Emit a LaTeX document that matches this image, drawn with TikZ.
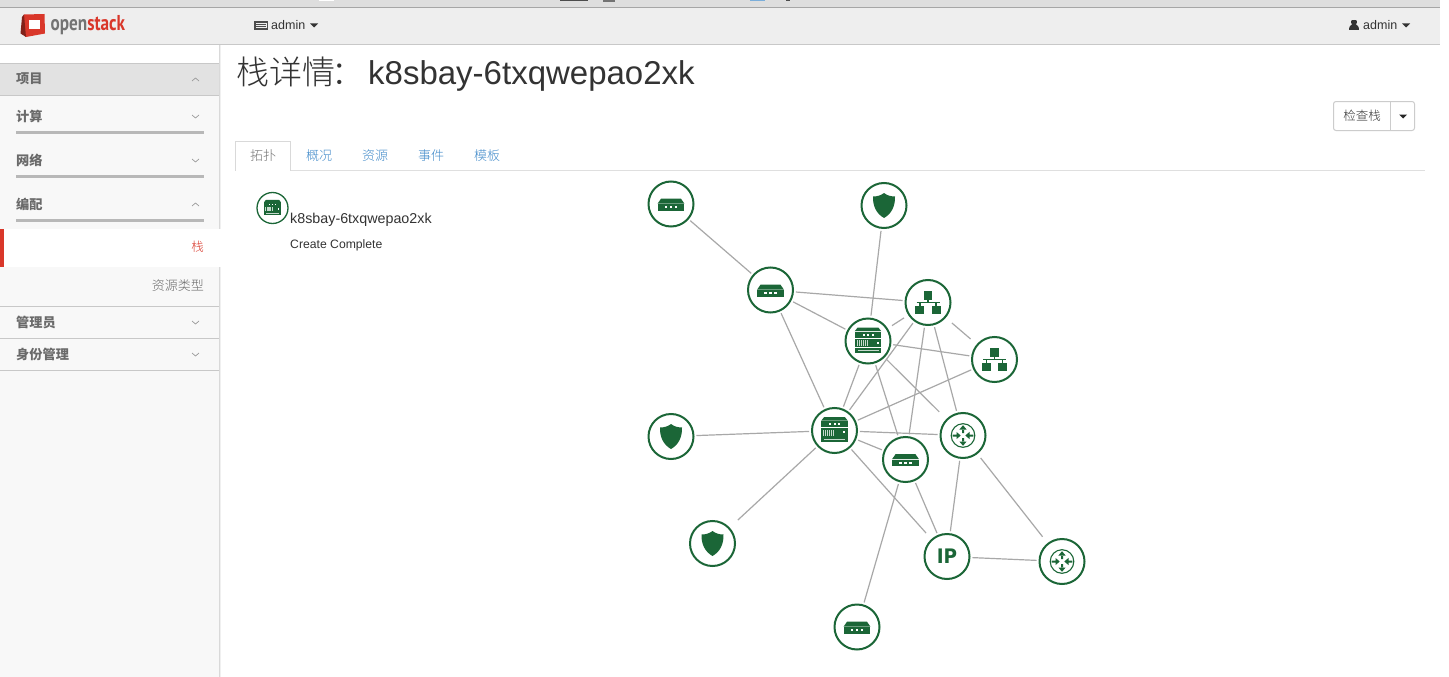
\documentclass[tikz,border=0pt]{standalone}
\usepackage{fontspec}
\setmainfont{Liberation Sans}
\newfontfamily\cjk{Noto Sans CJK SC}
\newfontfamily\cjkl{Noto Sans CJK SC Light}
\newfontfamily\logofont{PT Sans}
\newfontfamily\ipfont{DejaVu Sans}
\definecolor{osgreen}{HTML}{1B6637}
\definecolor{edgegray}{HTML}{A8A8A8}
\definecolor{navbg}{HTML}{EEEEEE}
\definecolor{topbg}{HTML}{DEDEDE}
\definecolor{sidebg}{HTML}{F8F8F8}
\definecolor{sidehead}{HTML}{E2E2E2}
\definecolor{sidetxt}{HTML}{6A6A6A}
\definecolor{rulegray}{HTML}{C8C8C8}
\definecolor{barg}{HTML}{B8B8B8}
\definecolor{osred}{HTML}{D9372A}
\definecolor{tabblue}{HTML}{428BCA}
\definecolor{txtdark}{HTML}{333333}
\tikzset{
  x=1pt,y=-1pt,
  topo/.style={circle,draw=osgreen,line width=2pt,fill=white,minimum size=45pt,inner sep=0pt,outer sep=3pt},
  link/.style={draw=edgegray,line width=1.2pt},
  farlink/.style={link,shorten <=#1,shorten >=#1},
  sidehd/.style={anchor=west,inner sep=0pt,text=sidetxt,font=\cjk\bfseries\fontsize{13.2}{15}\selectfont},
  tabtxt/.style={text=tabblue,font=\cjkl\fontsize{13}{15}\selectfont},
  chev/.style={draw=gray!80,line width=.7pt},
  sep/.style={draw=rulegray,line width=1pt},
  bar/.style={draw=barg,line width=3pt},
  rackicon/.pic={
    \fill[osgreen] (-10.5,-13.3) -- (10.5,-13.3) -- (13.3,-9.8) -- (-13.3,-9.8) -- cycle;
    \fill[osgreen] (-13.3,-9.1) rectangle (13.3,-3.2);
    \foreach \d in {-4.5,0,4.5}{\fill[white] (\d-1,-7.2) rectangle (\d+1,-5.2);}
    \fill[osgreen] (-13.3,-2.5) rectangle (13.3,6);
    \foreach \d in {-11.3,-9.3,-7.3,-5.3,-3.3,-1.3}{\fill[white!75!osgreen] (\d,-1) rectangle (\d+.9,5);}
    \fill[white] (8.5,.7) rectangle (10.7,2.9);
    \fill[osgreen] (-13.3,6.7) rectangle (13.3,11.7);
    \fill[white!75!osgreen] (-10.5,8.7) rectangle (10.5,9.7);
  },
  boxicon/.pic={
    \fill[osgreen] (-10,-5.3) -- (10,-5.3) -- (13.3,-.5) -- (-13.3,-.5) -- cycle;
    \fill[osgreen] (-13.3,0) rectangle (13.3,6.5);
    \foreach \d in {-5,0,5}{\fill[white] (\d-1.1,2) rectangle (\d+1.1,4.2);}
  },
  shieldicon/.pic={
    \fill[osgreen] (0,-12.5) .. controls (3,-10) and (7,-9) .. (11,-9)
       .. controls (11.3,0) and (8,8) .. (0,12.5)
       .. controls (-8,8) and (-11.3,0) .. (-11,-9)
       .. controls (-7,-9) and (-3,-10) .. (0,-12.5) -- cycle;
  },
  neticon/.pic={
    \fill[osgreen] (-4.3,-11.5) rectangle (4.3,-3);
    \draw[osgreen,line width=1.1pt] (0,-3) -- (0,0) (-11.5,0) -- (11.5,0) (-8,0) -- (-8,3) (8,0) -- (8,3);
    \fill[osgreen] (-12.7,3) rectangle (-3.7,11);
    \fill[osgreen] (3.7,3) rectangle (12.7,11);
  },
  routericon/.pic={
    \draw[osgreen,line width=1.1pt] (0,0) circle (11.8);
    \fill[osgreen] (-1,-2.5) rectangle (1,-6.5) (-3.6,-6) -- (3.6,-6) -- (0,-10.3) -- cycle;
    \fill[osgreen] (-1,2.5) rectangle (1,6.5) (-3.6,6) -- (3.6,6) -- (0,10.3) -- cycle;
    \fill[osgreen] (-10.3,-1) rectangle (-6.5,1) (-6.5,-3.6) -- (-6.5,3.6) -- (-2.3,0) -- cycle;
    \fill[osgreen] (10.3,-1) rectangle (6.5,1) (6.5,-3.6) -- (6.5,3.6) -- (2.3,0) -- cycle;
  },
}
\begin{document}
\begin{tikzpicture}
\useasboundingbox (0,0) rectangle (1449,677);
\fill[white] (0,0) rectangle (1449,677);
% window chrome
\fill[topbg] (0,0) rectangle (1440,7.5);
\fill[white] (319,0) rectangle (334,1.2);
\fill[black!70] (560,0) rectangle (588,1.5);
\fill[black!55] (603,0) rectangle (615,2.2);
\fill[tabblue!70] (750,0) rectangle (765,1.5);
\fill[black!70] (786,0) rectangle (790,1.2);
\fill[navbg] (0,8) rectangle (1440,44);
\draw[draw=gray!70,line width=1pt] (0,7.5) -- (1440,7.5);
\draw[draw=rulegray,line width=1pt] (0,44.5) -- (1440,44.5);
% logo
\fill[osred] (24,14.5) -- (44.5,14) -- (45,33.5) -- (26,37) -- (22,33) -- cycle;
\fill[osred!60!black] (22,17) -- (24,14.5) -- (26,37) -- (20.5,33.5) -- cycle;
\fill[white] (28.5,20.5) rectangle (39.5,29);
\node[anchor=west,inner sep=0pt,xscale=.8] (logoa) at (50.5,25) {\logofont\bfseries\fontsize{21.5}{24}\selectfont\textcolor{gray!90!black}{open}\textcolor{osred}{stack}};
% project selector
\fill[black!70] (254,21) rectangle (268,30);
\fill[navbg] (255.5,23) rectangle (266.5,28.5);
\draw[black!70,line width=.8pt] (256,24.5) -- (266,24.5) (256,26.6) -- (266,26.6);
\node[anchor=west,inner sep=0pt,text=txtdark,font=\fontsize{12.5}{14}\selectfont] (projm) at (271,25.5) {admin};
\fill[black!80] (310,23.5) -- (318,23.5) -- (314,27.5) -- cycle;
% user
\fill[black!80] (1349,30) .. controls (1349,25.5) and (1351,25.5) .. (1352,24.5) .. controls (1350,21) and (1351,20) .. (1354,20) .. controls (1357,20) and (1358,21) .. (1356,24.5) .. controls (1357,25.5) and (1359,25.5) .. (1359,30) -- cycle;
\node[anchor=west,inner sep=0pt,text=txtdark,font=\fontsize{12.5}{14}\selectfont] (userm) at (1363,25.5) {admin};
\fill[black!80] (1402,23.5) -- (1410,23.5) -- (1406,27.5) -- cycle;
% sidebar
\fill[sidebg] (0,45) rectangle (219,677);
\fill[gray!30] (219,45) rectangle (220,677);
\fill[gray!12] (220,45) rectangle (221,677);
\fill[white] (0,45) rectangle (219,63);
\fill[sidehead] (0,63.5) rectangle (219,95);
\draw[sep] (0,63.5) -- (219,63.5) (0,95.5) -- (219,95.5);
\node[sidehd] (nav1) at (16,79) {项目};
\draw[chev] (192,81) -- (195.5,78) -- (199,81);
\node[sidehd] (nav2) at (16,116) {计算};
\draw[chev] (192,115) -- (195.5,118) -- (199,115);
\draw[bar] (16,132) -- (204,132);
\node[sidehd] (nav3) at (16,160) {网络};
\draw[chev] (192,159) -- (195.5,162) -- (199,159);
\draw[bar] (16,176) -- (204,176);
\node[sidehd] (nav4) at (16,204) {编配};
\draw[chev] (192,206) -- (195.5,203) -- (199,206);
\draw[bar] (16,220) -- (204,220);
\fill[white] (0,228.5) rectangle (221,267);
\fill[osred] (0,228.5) rectangle (4,267);
\node[anchor=east,inner sep=0pt,text=osred,font=\cjkl\fontsize{12.5}{14}\selectfont] (nav5) at (204,247) {栈};
\node[anchor=east,inner sep=0pt,text=sidetxt,font=\cjkl\fontsize{13}{15}\selectfont] (nav6) at (204,286) {资源类型};
\draw[sep] (0,306.5) -- (219,306.5);
\node[sidehd] (nav7) at (16,322) {管理员};
\draw[chev] (192,321) -- (195.5,324) -- (199,321);
\draw[sep] (0,338.5) -- (219,338.5);
\node[sidehd] (nav8) at (16,354) {身份管理};
\draw[chev] (192,353) -- (195.5,356) -- (199,353);
\draw[sep] (0,370.5) -- (219,370.5);
% heading
\node[anchor=west,inner sep=0pt,text=txtdark,font=\fontsize{33}{36}\selectfont] (title) at (236,74) {{\cjkl 栈详情\kern-4pt ：\kern4pt}k8sbay-6txqwepao2xk};
% button
\draw[draw=gray!40,line width=1pt,rounded corners=2.5pt,fill=white] (1333.5,101.5) rectangle (1414.5,130.5);
\draw[draw=gray!40,line width=1pt] (1390.5,101.5) -- (1390.5,130.5);
\node[inner sep=0pt,text=txtdark,font=\cjkl\fontsize{12.5}{14}\selectfont] (btn) at (1362,116) {检查栈};
\fill[black!85] (1399,114.5) -- (1407,114.5) -- (1403,118.5) -- cycle;
% tabs
\draw[draw=gray!25,line width=1pt] (235,170.5) -- (1425,170.5);
\fill[white] (235,141) rectangle (291,172);
\draw[draw=gray!30,line width=1pt] (235.5,170.5) -- (235.5,141.5) -- (290.5,141.5) -- (290.5,170.5);
\node[inner sep=0pt,text=gray!90!black,font=\cjkl\fontsize{13}{15}\selectfont] (tab1) at (263,155.5) {拓扑};
\node[inner sep=0pt,tabtxt] (tab2) at (319,155.5) {概况};
\node[inner sep=0pt,tabtxt] (tab3) at (375,155.5) {资源};
\node[inner sep=0pt,tabtxt] (tab4) at (431,155.5) {事件};
\node[inner sep=0pt,tabtxt] (tab5) at (487,155.5) {模板};
% stack detail
\node[circle,draw=osgreen,line width=1.3pt,minimum size=31pt,inner sep=0pt] (hdr) at (272.5,208) {};
\pic[scale=.62] at (hdr.center) {rackicon};
\node[anchor=west,inner sep=0pt,text=txtdark,font=\fontsize{14.3}{16}\selectfont] (stackname) at (290,219.5) {k8sbay-6txqwepao2xk};
\node[anchor=west,inner sep=0pt,text=txtdark,font=\fontsize{12.2}{14}\selectfont] (stackstat) at (290,245.5) {Create Complete};
% topology nodes
\node[topo] (r1) at (671,204) {};
\node[topo] (s1) at (884,205.5) {};
\node[topo] (r2) at (770.5,290) {};
\node[topo] (n1) at (928,302.5) {};
\node[topo] (k1) at (868,341) {};
\node[topo] (n2) at (994.5,359.5) {};
\node[topo] (s2) at (671,436.5) {};
\node[topo] (k2) at (834.5,430.5) {};
\node[topo] (c1) at (963,435.5) {};
\node[topo] (r3) at (905.5,459.5) {};
\node[topo] (s3) at (712.5,543.5) {};
\node[topo] (ip) at (947,556.5) {};
\node[topo] (c2) at (1062,561.5) {};
\node[topo] (r4) at (857,627) {};
% connectors
\draw[link] (r1) -- (r2);
\draw[link] (s1) -- (k1);
\draw[link] (r2) -- (n1);
\draw[link] (r2) -- (k1);
\draw[link] (r2) -- (k2);
\draw[farlink=3pt] (k1) -- (n1);
\draw[link] (k2) -- (n1);
\draw[link] (k1) -- (n2);
\draw[farlink=6pt] (n1) -- (n2);
\draw[link] (k1) -- (k2);
\draw[link] (k1) -- (r3);
\draw[link,shorten >=8pt] (k1) -- (c1);
\draw[link] (n1) -- (r3);
\draw[link] (n1) -- (c1);
\draw[link] (n2) -- (k2);
\draw[link] (k2) -- (s2);
\draw[link] (k2) -- (c1);
\draw[link] (k2) -- (r3);
\draw[link,shorten >=9pt] (k2) -- (s3);
\draw[link,shorten >=6pt] (k2) -- (ip);
\draw[link] (r3) -- (ip);
\draw[link] (r3) -- (r4);
\draw[link] (c1) -- (ip);
\draw[link,shorten <=3pt,shorten >=6pt] (c1) -- (c2);
\draw[link] (ip) -- (c2);
% icons
\pic at (r1.center) {boxicon};
\pic at (r2.center) {boxicon};
\pic at (r3.center) {boxicon};
\pic at (r4.center) {boxicon};
\pic at (s1.center) {shieldicon};
\pic at (s2.center) {shieldicon};
\pic at (s3.center) {shieldicon};
\pic at (n1.center) {neticon};
\pic at (n2.center) {neticon};
\pic at (k1.center) {rackicon};
\pic at (k2.center) {rackicon};
\pic at (c1.center) {routericon};
\pic at (c2.center) {routericon};
\node[inner sep=0pt,xscale=.92,text=osgreen,font=\ipfont\bfseries\fontsize{20}{22}\selectfont] (iptxt) at (ip.center) {IP};
\end{tikzpicture}
\end{document}
